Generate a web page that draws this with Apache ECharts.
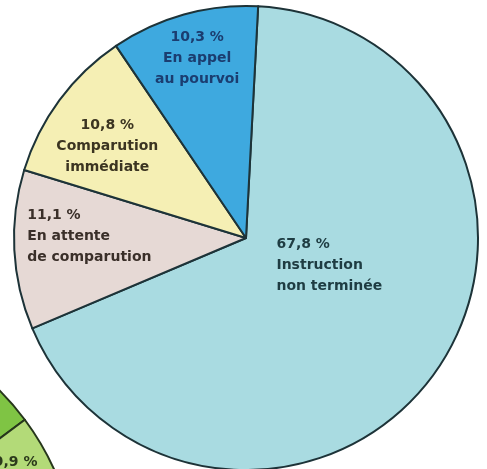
<!DOCTYPE html>
<html>
<head>
<meta charset="utf-8">
<script src="https://cdn.jsdelivr.net/npm/echarts@6/dist/echarts.min.js"></script>
<style>
  html, body { margin: 0; padding: 0; background: #fff; }
  #chart { width: 487px; height: 469px; }
</style>
</head>
<body>
<div id="chart"></div>
<script>
// main pie: share of cases (%)
var labels = ['Instruction\nnon terminée', 'En attente\nde comparution', 'Comparution\nimmédiate', 'En appel\nau pourvoi'];
var values = [67.8, 11.1, 10.8, 10.3];
var colors = ['#a9dbe1', '#e6d9d5', '#f5efb4', '#3ea9df'];
var textColors = ['#1e3c42', '#3a2f29', '#3b3421', '#1b3d70'];

// fragment of the neighbouring pie (bottom-left corner)
var otherLabels = ['', '9,9 %', ''];
var otherValues = [14.8, 9.9, 75.3];
var otherColors = ['#7fc444', '#b3da78', '#9ccf5c'];

// label placement tweaks (relative to the slice's inside anchor)
var labelAlign = ['left', 'left', 'center', 'center'];
var labelWidth = [128, 150, 130, 110];
var labelOffset = [[-3, -41], [-25, -8], [-43, -21], [-17, -65]];

function pct(v) {
  return v.toFixed(1).replace('.', ',') + ' %';
}

var chart = echarts.init(document.getElementById('chart'));

var mainData = [];
for (var i = 0; i < values.length; i++) {
  mainData.push({
    name: labels[i],
    value: values[i],
    itemStyle: { color: colors[i] },
    label: {
      offset: labelOffset[i],
      rich: {
        t: {
          color: textColors[i],
          align: labelAlign[i],
          width: labelWidth[i],
          fontFamily: 'DejaVu Sans',
          fontWeight: 'bold',
          fontSize: 14,
          lineHeight: 21
        }
      }
    }
  });
}

var otherData = [];
for (var j = 0; j < otherValues.length; j++) {
  otherData.push({
    name: otherLabels[j],
    value: otherValues[j],
    itemStyle: { color: otherColors[j] },
    label: { show: otherLabels[j] !== '', offset: [76, -73] }
  });
}

var option = {
  animation: false,
  series: [
    {
      type: 'pie',
      center: [-190, 580],
      radius: 268,
      startAngle: 90,
      silent: true,
      itemStyle: { borderColor: '#26361c', borderWidth: 2 },
      label: {
        position: 'inside',
        formatter: '{b}',
        color: '#2c3a1c',
        fontFamily: 'DejaVu Sans',
        fontWeight: 'bold',
        fontSize: 14
      },
      labelLine: { show: false },
      data: otherData
    },
    {
      type: 'pie',
      center: [246, 238],
      radius: 232,
      startAngle: 87,
      clockwise: true,
      silent: true,
      itemStyle: { borderColor: '#1d3338', borderWidth: 2 },
      label: {
        position: 'inside',
        formatter: function (p) {
          var lines = (pct(p.value) + '\n' + p.name).split('\n');
          return lines.map(function (s) { return '{t|' + s + '}'; }).join('\n');
        }
      },
      labelLine: { show: false },
      data: mainData
    }
  ]
};

chart.setOption(option);
</script>
</body>
</html>
